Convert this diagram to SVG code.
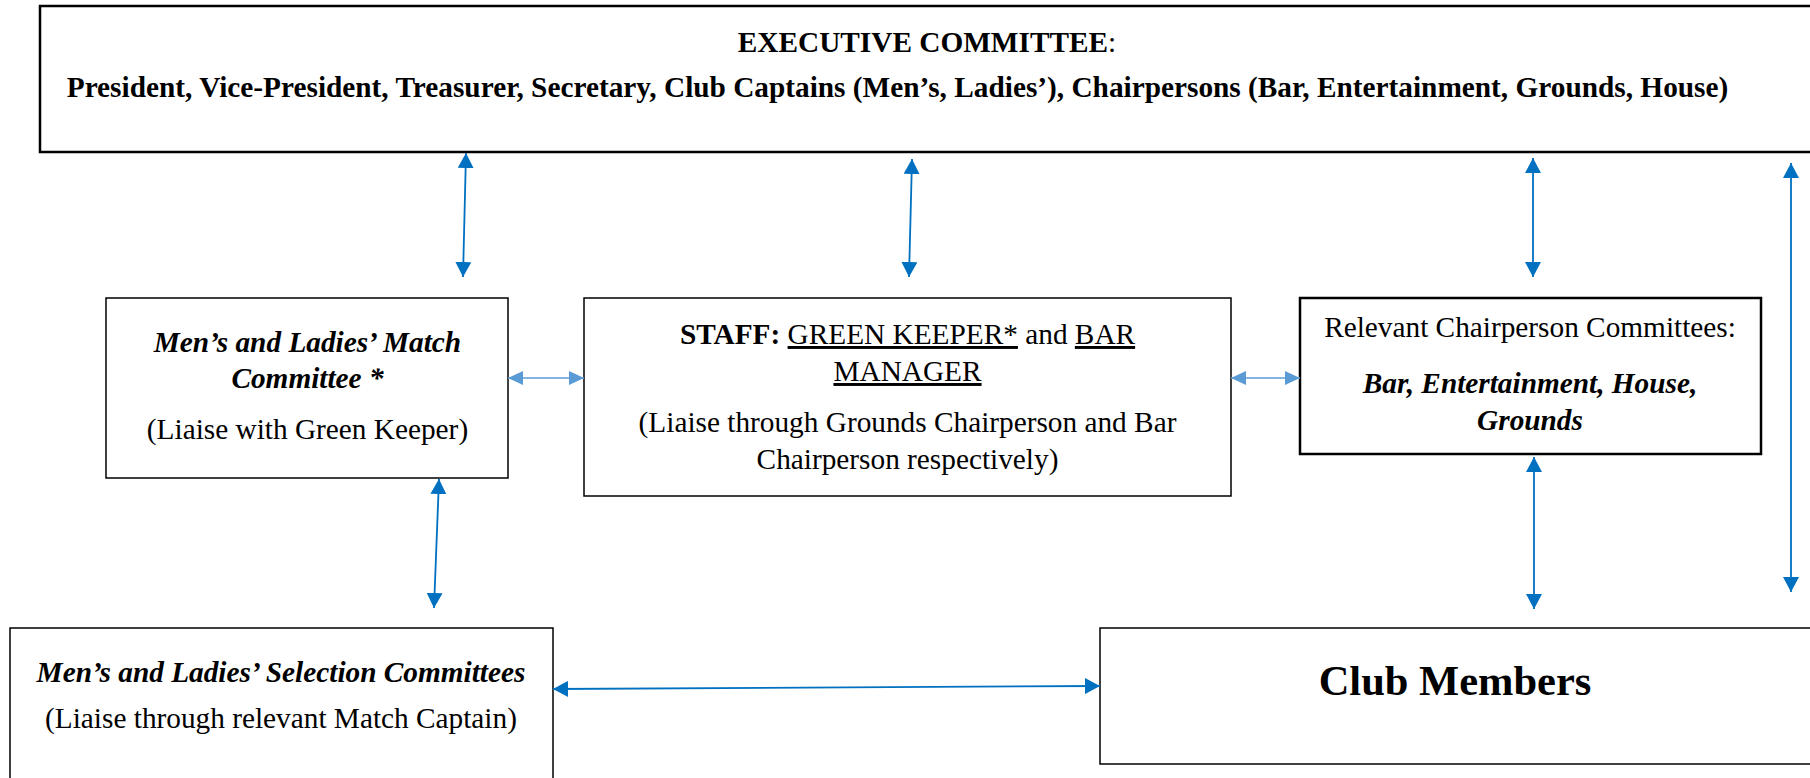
<svg xmlns="http://www.w3.org/2000/svg" width="1810" height="778" viewBox="0 0 1810 778">
<style>
.box{fill:#fff;stroke:#000;stroke-width:1.5}
.thick{stroke-width:2.5}
text{font-family:"Liberation Serif","Times New Roman",serif;font-size:29.3px;fill:#000;text-anchor:middle}
.b{font-weight:bold}
.bi{font-weight:bold;font-style:italic}
.u{text-decoration:underline}
.dark{stroke:#0070C0;stroke-width:1.8;fill:none;marker-start:url(#ad);marker-end:url(#ad)}
.light{stroke:#5B9BD5;stroke-width:1.5;fill:none;marker-start:url(#al);marker-end:url(#al)}
</style>
<defs>
<marker id="ad" markerUnits="userSpaceOnUse" markerWidth="16" markerHeight="16" refX="15" refY="8" orient="auto-start-reverse"><path d="M0,0 L15,8 L0,16 z" fill="#0070C0"/></marker>
<marker id="al" markerUnits="userSpaceOnUse" markerWidth="16" markerHeight="14" refX="15" refY="7" orient="auto-start-reverse"><path d="M0,0 L15,7 L0,14 z" fill="#5B9BD5"/></marker>
</defs>
<rect width="1810" height="778" fill="#fff"/>
<g id="executive">
<rect class="box thick" x="40" y="6" width="1780" height="146"/>
<text x="927" y="52"><tspan class="b">EXECUTIVE COMMITTEE</tspan>:</text>
<text class="b" x="897.5" y="97">President, Vice-President, Treasurer, Secretary, Club Captains (Men’s, Ladies’), Chairpersons (Bar, Entertainment, Grounds, House)</text>
</g>
<g id="match">
<rect class="box" x="106" y="298" width="402" height="180"/>
<text class="bi" x="307.5" y="352">Men’s and Ladies’ Match</text>
<text class="bi" x="307.5" y="388">Committee *</text>
<text x="307.5" y="439">(Liaise with Green Keeper)</text>
</g>
<g id="staff">
<rect class="box" x="584" y="298" width="647" height="198"/>
<text x="907.5" y="344"><tspan class="b">STAFF:</tspan> <tspan class="u">GREEN KEEPER*</tspan> and <tspan class="u">BAR</tspan></text>
<text x="907.5" y="381"><tspan class="u">MANAGER</tspan></text>
<text x="907.5" y="432">(Liaise through Grounds Chairperson and Bar</text>
<text x="907.5" y="469">Chairperson respectively)</text>
</g>
<g id="chairpersons">
<rect class="box thick" x="1300" y="298" width="461" height="156"/>
<text x="1530" y="337">Relevant Chairperson Committees:</text>
<text class="bi" x="1530" y="393">Bar, Entertainment, House,</text>
<text class="bi" x="1530" y="430">Grounds</text>
</g>
<g id="selection">
<rect class="box" x="10" y="628" width="543" height="170"/>
<text class="bi" x="281" y="682">Men’s and Ladies’ Selection Committees</text>
<text x="281" y="728">(Liaise through relevant Match Captain)</text>
</g>
<g id="members">
<rect class="box" x="1100" y="628" width="720" height="136"/>
<text class="b" x="1455" y="695" style="font-size:42.5px">Club Members</text>
</g>
<g id="connectors">
<line class="dark" x1="466" y1="153" x2="463" y2="277"/>
<line class="dark" x1="912" y1="159" x2="909" y2="277"/>
<line class="dark" x1="1533" y1="158" x2="1533" y2="277"/>
<line class="dark" x1="1791" y1="163" x2="1791" y2="592"/>
<line class="light" x1="508" y1="378" x2="584" y2="378"/>
<line class="light" x1="1231" y1="378" x2="1300" y2="378"/>
<line class="dark" x1="439" y1="479" x2="434" y2="608"/>
<line class="dark" x1="1534" y1="457" x2="1534" y2="609"/>
<line class="dark" x1="553" y1="689" x2="1100" y2="686"/>
</g>
</svg>
